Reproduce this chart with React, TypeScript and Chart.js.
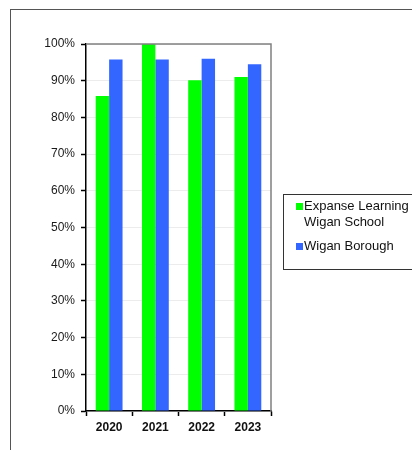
import React, { useEffect, useRef } from "react";
import { Chart, registerables } from "chart.js";

Chart.register(...registerables);

const categories = ["2020", "2021", "2022", "2023"];
const schoolValues = [85.8, 100, 90.1, 91.0];
const boroughValues = [95.8, 95.8, 96.0, 94.5];
const seriesNames = ["Expanse Learning Wigan School", "Wigan Borough"];
const yTicks = [0, 10, 20, 30, 40, 50, 60, 70, 80, 90, 100];

const GREEN = "#00ff00";
const BLUE = "#3366ff";
const FONT = "'Liberation Sans', Arial, sans-serif";

const framePlugin = {
  id: "frameLines",
  afterDraw(chart: any) {
    const { ctx, chartArea } = chart;
    ctx.save();
    ctx.strokeStyle = "#808080";
    ctx.lineWidth = 1.5;
    ctx.beginPath();
    ctx.moveTo(chartArea.left, chartArea.top);
    ctx.lineTo(chartArea.right, chartArea.top);
    ctx.lineTo(chartArea.right, chartArea.bottom);
    ctx.stroke();
    ctx.restore();
  },
};

export default function App() {
  const ref = useRef<HTMLCanvasElement>(null);
  useEffect(() => {
    if (!ref.current) return;
    const chart = new Chart(ref.current, {
      type: "bar",
      data: {
        labels: categories,
        datasets: [
          { label: seriesNames[0], data: schoolValues, backgroundColor: GREEN, borderWidth: 0 },
          { label: seriesNames[1], data: boroughValues, backgroundColor: BLUE, borderWidth: 0 },
        ],
      },
      options: {
        animation: false,
        responsive: false,
        maintainAspectRatio: false,
        layout: { padding: { left: 0, top: 44, right: 141, bottom: 0 } },
        plugins: { legend: { display: false }, tooltip: { enabled: false } },
        datasets: { bar: { categoryPercentage: 0.58, barPercentage: 1 } },
        scales: {
          x: {
            grid: {
              offset: true,
              drawOnChartArea: false,
              drawTicks: true,
              tickLength: 5,
              tickColor: "#000",
              tickWidth: 1.5,
            },
            border: { color: "#000", width: 1.5 },
            ticks: {
              color: "#111",
              padding: 4,
              font: { family: FONT, size: 12, weight: "bold" },
            },
            afterFit: (s: any) => {
              s.height = 39;
            },
          },
          y: {
            min: 0,
            max: 100,
            afterBuildTicks: (s: any) => {
              s.ticks = yTicks.map((v) => ({ value: v }));
            },
            grid: {
              color: "#ececec",
              lineWidth: 1,
              drawTicks: true,
              tickLength: 5,
              tickColor: "#000",
              tickWidth: 1.5,
            },
            border: { color: "#000", width: 1.5 },
            ticks: {
              color: "#1a1a1a",
              padding: 6,
              font: { family: FONT, size: 12 },
              callback: (v: any) => v + "%",
            },
            afterFit: (s: any) => {
              s.width = 86;
            },
          },
        },
      },
      plugins: [framePlugin],
    });
    return () => chart.destroy();
  }, []);

  const text: React.CSSProperties = {
    position: "absolute",
    fontFamily: FONT,
    fontSize: 13,
    color: "#111",
    lineHeight: "16px",
    whiteSpace: "nowrap",
  };
  const sw = (c: string): React.CSSProperties => ({
    position: "absolute",
    width: 7,
    height: 7,
    background: c,
  });

  return (
    <div style={{ position: "fixed", left: 0, top: 0, width: 412, height: 450, background: "#fff", overflow: "hidden" }}>
      <div
        style={{
          position: "absolute",
          left: 10,
          top: 9,
          width: 410,
          height: 440,
          borderTop: "1.5px solid #555",
          borderLeft: "1.5px solid #555",
        }}
      />
      <canvas ref={ref} width={412} height={450} style={{ position: "absolute", left: 0, top: 0, width: 412, height: 450 }} />
      <div
        style={{
          position: "absolute",
          left: 283,
          top: 194,
          width: 140,
          height: 76,
          border: "1.5px solid #333",
          boxSizing: "border-box",
        }}
      />
      <div style={{ ...sw(GREEN), left: 296, top: 203 }} />
      <div style={{ ...text, left: 304, top: 198 }}>Expanse Learning</div>
      <div style={{ ...text, left: 304, top: 214 }}>Wigan School</div>
      <div style={{ ...sw(BLUE), left: 296, top: 243 }} />
      <div style={{ ...text, left: 304, top: 238 }}>Wigan Borough</div>
    </div>
  );
}
